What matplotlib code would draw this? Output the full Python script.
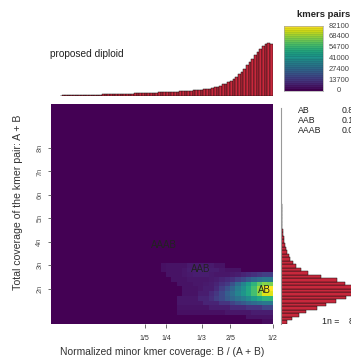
import numpy as np
import matplotlib
matplotlib.use("Agg")
import matplotlib.pyplot as plt

plt.rcParams['font.family'] = ['Liberation Sans', 'DejaVu Sans']

# haploid coverage (1n) used for the coverage axis
n_cov = 85

# top panel: histogram of minor kmer coverage ratio, 80 bins over 0..0.5
minor_edges = np.linspace(0, 0.5, 81)
minor_counts = [0.4, 0.5, 0.6, 0.6, 0.7, 0.8, 0.8, 0.9, 1.0, 1.0,
                1.1, 1.2, 1.2, 1.3, 1.4, 1.4, 1.5, 1.6, 1.7, 1.7,
                1.8, 1.9, 2.0, 2.0, 2.1, 2.2, 2.3, 2.4, 2.5, 2.6,
                2.7, 2.8, 2.9, 3.0, 3.1, 3.2, 3.4, 3.5, 3.6, 3.7,
                3.9, 4.0, 4.1, 4.3, 4.4, 4.6, 4.7, 4.9, 5.1, 5.3,
                5.5, 5.7, 6.0, 6.2, 6.5, 6.9, 7.2, 7.8, 8.4, 9.0,
                10.0, 11.6, 12.2, 13.5, 15.2, 17.0, 19.0, 21.5, 24.0, 27.0,
                30.0, 33.0, 36.5, 40.0, 43.0, 46.5, 49.0, 51.0, 52.0, 51.5]

# right panel: histogram of total coverage, bins of 0.15n from 0.5n
cov_edges = (0.5 + 0.15 * np.arange(51)) * n_cov
cov_counts = [6, 11, 18, 25, 36, 45, 55, 65, 85, 90,
              75, 64, 56, 40, 27, 20, 15, 12, 9, 7.5,
              6, 5, 4, 3.2, 2.6, 2.1, 1.7, 1.4, 1.1, 0.9,
              0.8, 0.7, 0.6, 0.5, 0.45, 0.4, 0.35, 0.3, 0.27, 0.24,
              0.2, 0.18, 0.16, 0.14, 0.12, 0.1, 0.09, 0.08, 0.07, 0.06]

# smudge counts (thousands of kmer pairs), rows from 3.1n down to 0.5n,
# columns are ratio bins 19..39 (0.2375..0.5); everything else is empty
smudge_block = [
    [3.3, 4.1, 4.1, 4.1, 4.1, 5.7, 5.7, 5.7, 5.7, 5.7, 4.1, 4.1, 0, 0, 0, 0, 0, 0, 0, 0, 0],
    [3.3, 4.1, 4.1, 4.1, 4.9, 6.6, 6.6, 7.4, 7.4, 6.6, 6.6, 4.9, 4.1, 4.1, 4.1, 0, 0, 0, 0, 0, 0],
    [0, 4.1, 4.1, 4.1, 4.9, 5.7, 6.6, 6.6, 6.6, 5.7, 4.9, 4.9, 4.9, 5.7, 6.6, 8.2, 9.9, 11.5, 13.1, 14.8, 14.8],
    [0, 0, 4.1, 4.1, 4.1, 4.9, 4.9, 4.9, 4.9, 5.7, 6.6, 8.2, 9.9, 11.5, 14.8, 18.0, 23.0, 27.1, 30.4, 32.8, 32.8],
    [0, 0, 0, 4.1, 4.1, 4.1, 4.9, 4.9, 5.7, 6.6, 8.2, 11.5, 14.0, 20.5, 28.7, 36.9, 45.2, 53.4, 61.6, 67.3, 65.7],
    [0, 0, 0, 0, 4.1, 4.1, 4.1, 4.9, 6.6, 6.6, 9.9, 14.8, 20.5, 26.3, 34.5, 41.0, 49.3, 57.5, 69.8, 79.6, 82.1],
    [0, 0, 0, 0, 4.1, 4.1, 4.1, 6.6, 6.6, 9.9, 13.1, 18.0, 24.6, 29.6, 36.9, 42.7, 49.3, 57.5, 67.3, 78.0, 78.0],
    [0, 0, 0, 4.9, 4.9, 4.9, 4.9, 8.2, 8.2, 10.7, 14.8, 18.0, 23.0, 27.1, 31.2, 34.5, 39.4, 45.2, 49.3, 53.4, 53.4],
    [0, 0, 0, 4.9, 4.9, 4.9, 4.9, 4.9, 8.2, 8.2, 8.2, 12.3, 12.3, 16.4, 20.5, 23.0, 26.3, 28.7, 31.2, 32.8, 32.8],
    [0, 0, 0, 4.1, 4.1, 4.1, 4.1, 4.1, 4.1, 6.6, 6.6, 6.6, 6.6, 9.9, 9.9, 9.9, 12.3, 12.3, 12.3, 16.4, 16.4],
    [0, 0, 0, 3.3, 3.3, 3.3, 3.3, 3.3, 3.3, 3.3, 3.3, 3.3, 4.9, 4.9, 4.9, 4.9, 4.9, 6.6, 6.6, 6.6, 6.6],
    [0, 0, 0, 0, 0, 0, 0, 0, 0, 0, 0, 0, 0, 0, 0, 0, 4.1, 4.1, 4.1, 4.1, 4.1],
    [0, 0, 0, 0, 0, 0, 0, 0, 0, 0, 0, 0, 0, 0, 0, 0, 0, 0, 0, 2.5, 2.5],
]

smudge_labels = ['AB', 'AAB', 'AAAB']
smudge_pos = [(0.48, 1.95), (0.33, 2.85), (0.245, 3.85)]
smudge_props = ['0.86', '0.11', '0.03']

x_ticks = [1/5, 1/4, 1/3, 2/5, 1/2]
x_ticklabels = ['1/5', '1/4', '1/3', '2/5', '1/2']
y_ticks_n = [2, 3, 4, 5, 6, 7, 8]
cbar_labels = ['0', '13700', '27400', '41000', '54700', '68400', '82100']
cbar_max = 82.1

bar_red = '#C8283C'
W, H = 351, 362

def px_axes(x0, y0, x1, y1):
    # axes from pixel box (top-left origin)
    return fig.add_axes([x0 / W, (H - y1) / H, (x1 - x0) / W, (y1 - y0) / H])

fig = plt.figure(figsize=(W / 100, H / 100), dpi=100)

# main smudge heatmap
x_edges = np.linspace(0, 0.5, 41)
y_edges = (0.5 + 0.2 * np.arange(48)) * n_cov
grid = np.zeros((47, 40))
grid[0:13, 19:40] = np.flipud(np.array(smudge_block))

ax = px_axes(51, 104, 272.7, 324)
ax.set_facecolor(plt.cm.viridis(0))
ax.pcolormesh(x_edges, y_edges, grid, cmap='viridis', vmin=0, vmax=cbar_max)
ax.set_xlim(-0.02, 0.5)
ax.set_ylim(0.5 * n_cov, 9.87 * n_cov)
for s in ax.spines.values():
    s.set_visible(False)
ax.set_xticks(x_ticks)
ax.set_xticklabels(x_ticklabels, fontsize=5, color='#333')
ax.set_yticks([k * n_cov for k in y_ticks_n])
ax.set_yticklabels([f'{k}n' for k in y_ticks_n], fontsize=5.3, color='#555',
                   rotation=90, va='center')
ax.tick_params(axis='x', length=3, width=0.6, color='#555', pad=5)
ax.tick_params(axis='y', length=2.5, width=0.6, color='#555', pad=3)
for lab, (lx, ly) in zip(smudge_labels, smudge_pos):
    ax.text(lx, ly * n_cov, lab, fontsize=7, color='#222', ha='center', va='center')

fig.text(18 / W, 1 - 202 / H, 'Total coverage of the kmer pair: A + B',
         rotation=90, fontsize=7.6, color='#333', ha='center', va='center')
fig.text(162 / W, 1 - 352 / H, 'Normalized minor kmer coverage: B / (A + B)',
         fontsize=7.4, color='#333', ha='center', va='center')

# top histogram
axt = px_axes(51, 40, 272.7, 96)
axt.bar(minor_edges[:-1], minor_counts, width=np.diff(minor_edges), align='edge',
        color=bar_red, edgecolor='#111', linewidth=0.35)
axt.set_xlim(-0.02, 0.5)
axt.set_ylim(0, 55)
axt.axis('off')
fig.text(50 / W, 1 - 54 / H, 'proposed diploid', fontsize=7.3, color='#222',
         ha='left', va='center')

# right histogram
axr = px_axes(281, 104, 351, 324)
axr.barh(cov_edges[:-1], cov_counts, height=np.diff(cov_edges), align='edge',
         color=bar_red, edgecolor='#111', linewidth=0.35)
axr.set_ylim(0.5 * n_cov, 9.87 * n_cov)
axr.set_xlim(0, 70)
for s in ['top', 'right', 'bottom']:
    axr.spines[s].set_visible(False)
axr.spines['left'].set_color('#999')
axr.spines['left'].set_linewidth(0.8)
axr.spines['left'].set_bounds(0.5 * n_cov, 9.7 * n_cov)
axr.set_xticks([])
axr.set_yticks([])
axr.patch.set_alpha(0)

# proportions of each smudge
for i, (lab, prop) in enumerate(zip(smudge_labels, smudge_props)):
    fig.text(298 / W, 1 - (110.5 + 10 * i) / H, lab, fontsize=6.3, color='#222', va='center')
    fig.text(341.5 / W, 1 - (110.5 + 10 * i) / H, prop, fontsize=6.3, color='#222', va='center')
fig.text(322 / W, 1 - 322 / H, '1n =', fontsize=6.3, color='#222', va='center')
fig.text(348.5 / W, 1 - 322 / H, str(n_cov), fontsize=6.3, color='#222', va='center')

# colour key
axc = px_axes(284, 26, 323, 91)
levels = np.linspace(0, cbar_max, 33)
axc.barh(levels[:-1], [1] * 32, height=np.diff(levels), align='edge',
         color=plt.cm.viridis(np.linspace(0, 1, 32)), edgecolor=(0, 0, 0, 0.25),
         linewidth=0.3)
axc.set_xlim(0, 1)
axc.set_ylim(0, cbar_max)
axc.set_xticks([])
axc.set_yticks([])
for s in axc.spines.values():
    s.set_color('#aaa')
    s.set_linewidth(0.5)
for i, lab in enumerate(cbar_labels):
    axc.text((339 - 284) / 39, i * cbar_max / 6, lab, transform=axc.get_yaxis_transform(),
             fontsize=5.4, color='#444', ha='center', va='center')
fig.text(324 / W, 1 - 14.5 / H, 'kmers pairs', fontsize=6.8, fontweight='bold',
         color='#222', ha='center', va='center')

fig.savefig('out.png', dpi=100)
